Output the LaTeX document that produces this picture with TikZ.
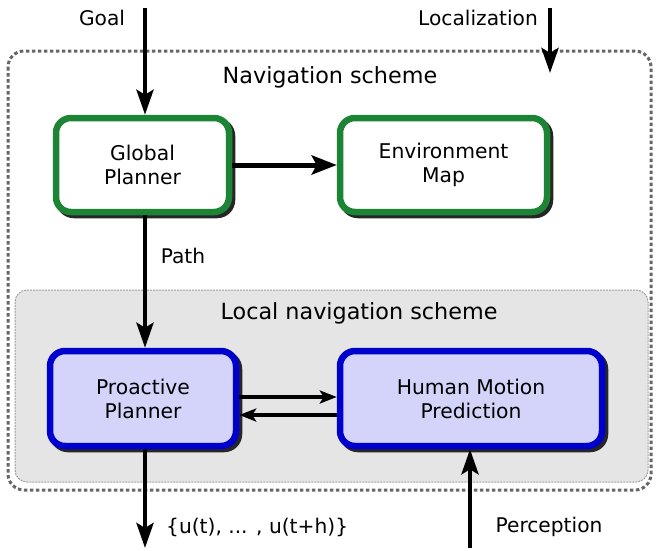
\documentclass[tikz,border=0pt]{standalone}
\usepackage{fontspec}
\setmainfont{DejaVu Sans}
\usetikzlibrary{arrows.meta}
\definecolor{gborder}{RGB}{28,132,52}
\definecolor{bborder}{RGB}{0,0,204}
\definecolor{bfill}{RGB}{212,212,250}
\definecolor{lgray}{RGB}{229,229,229}
\begin{document}
\begin{tikzpicture}[x=1pt,y=-1pt,
  lbl/.style={font=\fontsize{20.2}{24}\selectfont, inner sep=0pt},
  ttl/.style={font=\fontsize{22.3}{26}\selectfont, inner sep=0pt},
  boxbase/.style={rounded corners=15pt, line width=6.5pt, align=center,
    font=\fontsize{20.3}{24}\selectfont,
    preaction={draw=black!85, line width=6.5pt,
      transform canvas={shift={(3pt,-3pt)}}}},
  gbox/.style={boxbase, draw=gborder, fill=white, minimum height=94pt},
  bbox/.style={boxbase, draw=bborder, fill=bfill, minimum height=95pt},
  bigarr/.style={line width=4.5pt, -{Stealth[length=25pt,width=17pt,inset=5pt]}},
  medarr/.style={line width=5pt, -{Stealth[length=25pt,width=19pt,inset=5pt]}},
  midarr/.style={line width=3.5pt, -{Stealth[length=17pt,width=13pt,inset=4pt]}},
  outerb/.style={draw=black!60, line width=3pt, dash pattern=on 3.5pt off 2.5pt},
  innerb/.style={draw=gray!75, fill=lgray, line width=1pt, dash pattern=on 2pt off 1pt}
]
\useasboundingbox (0,0) rectangle (656,550);

% frames
\draw[outerb, rounded corners=16pt] (8,51) rectangle (651,490);
\draw[innerb, rounded corners=12pt] (15,290) rectangle (648,482);

% titles
\node[ttl] (navt) at (330,77) {Navigation scheme};
\node[ttl] (loct) at (359,313) {Local navigation scheme};

% boxes
\node[gbox, minimum width=173pt] (gp) at (142.5,165) {Global\\Planner};
\node[gbox, minimum width=207pt] (env) at (443.5,165) {Environment\\Map};
\node[bbox, minimum width=186pt] (pp) at (143,398.5) {Proactive\\Planner};
\node[bbox, minimum width=262pt] (hm) at (471,398.5) {Human Motion\\Prediction};

% inputs
\coordinate (goalin) at (145,8);
\node[lbl] (goall) at (102,18) {Goal};
\draw[bigarr] (goalin) -- (goalin |- gp.north);

\coordinate (locin) at (550,8);
\coordinate (locend) at (550,73);
\node[lbl] (locl) at (478,18) {Localization};
\draw[bigarr] (locin) -- (locend);

% global to env
\draw[medarr] (gp.east) -- (env.west);

% path
\draw[bigarr] (gp.south -| goalin) -- (pp.north -| goalin);
\node[lbl] (pathl) at (183,256) {Path};

% between proactive and human motion
\coordinate (ya) at (0,397);
\coordinate (yb) at (0,415);
\draw[midarr] (pp.east |- ya) -- (hm.west |- ya);
\draw[midarr] (hm.west |- yb) -- (pp.east |- yb);

% output
\coordinate (uout) at (145,548);
\draw[bigarr] (pp.south -| uout) -- (uout);
\node[lbl, anchor=west] (ul) at (166,527) {\{u(t), ... , u(t+h)\}};

% perception
\coordinate (pin) at (470,548);
\draw[bigarr] (pin) -- (pin |- hm.south);
\node[lbl] (perc) at (549,527) {Perception};
\end{tikzpicture}
\end{document}
